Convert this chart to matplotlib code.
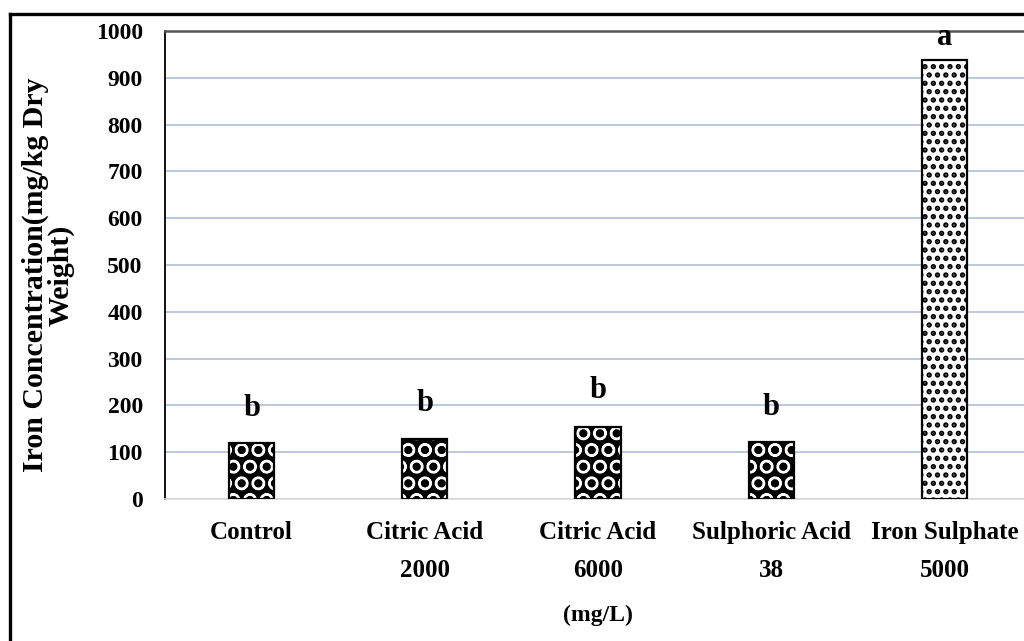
import matplotlib
matplotlib.use("Agg")
import matplotlib.pyplot as plt
from matplotlib.lines import Line2D
import numpy as np

categories = ["Control", "Citric Acid\n2000", "Citric Acid\n6000", "Sulphoric Acid\n38", "Iron Sulphate\n5000"]
values = [120, 128, 154, 122, 938]
letters = ["b", "b", "b", "b", "a"]
letter_y = [162, 173, 201, 165, 955]
yticks = [0, 100, 200, 300, 400, 500, 600, 700, 800, 900, 1000]

plt.rcParams['font.family'] = ['Liberation Serif', 'DejaVu Serif']
plt.rcParams['font.weight'] = 'bold'
plt.rcParams['hatch.linewidth'] = 1.6

fig = plt.figure(figsize=(10.24, 6.41), dpi=100)
ax = fig.add_axes([165/1024, 1-499/641, (1031-165)/1024, (499-31)/641])

x = np.arange(len(categories))
w = 0.26
# dark patterned bars
for i in range(4):
    ax.bar(x[i], values[i], width=w, color='black', edgecolor='white', hatch='O', linewidth=0, zorder=3)
    ax.bar(x[i], values[i], width=w, fill=False, edgecolor='black', linewidth=1.6, zorder=4)
# dotted bar
with plt.rc_context({'hatch.linewidth': 2.6}):
    ax.bar(x[4], values[4], width=w, color='white', edgecolor='black', hatch='..', linewidth=0, zorder=3)
ax.bar(x[4], values[4], width=w, fill=False, edgecolor='black', linewidth=1.6, zorder=4)

for xi, lt, ly in zip(x, letters, letter_y):
    ax.text(xi, ly, lt, ha='center', va='bottom', fontsize=22, fontweight='bold')

ax.set_xlim(-0.5, len(categories) - 0.5)
ax.set_ylim(0, 1000)
ax.set_yticks(yticks)
ax.set_yticklabels([str(v) for v in yticks], fontsize=17, fontweight='bold')
ax.set_xticks(x)
ax.set_xticklabels(categories, fontsize=18, fontweight='bold', linespacing=1.8)
ax.tick_params(axis='y', length=0, pad=16)
ax.tick_params(axis='x', length=0, pad=16)

ax.yaxis.grid(True, color='#B4BFD6', linewidth=1.2, zorder=0)
ax.set_axisbelow(True)
ax.spines['left'].set_color('black')
ax.spines['left'].set_linewidth(1.3)
ax.spines['top'].set_color('#555555')
ax.spines['top'].set_linewidth(1.8)
ax.spines['right'].set_visible(False)
ax.spines['bottom'].set_color('#D9D9D9')
ax.spines['bottom'].set_linewidth(1.2)

ax.set_xlabel("(mg/L)", fontsize=17, fontweight='bold', labelpad=17)
ax.set_ylabel("Iron Concentration(mg/kg Dry\nWeight)", fontsize=21.5, fontweight='bold',
              linespacing=0.92)
ax.yaxis.set_label_coords(-0.104, 0.479)

# outer border (cut off on right and bottom)
fig.add_artist(Line2D([10/1024, 10/1024], [1-14/641, -0.05], color='black', linewidth=2.4, transform=fig.transFigure))
fig.add_artist(Line2D([10/1024, 1.05], [1-14/641, 1-14/641], color='black', linewidth=2.4, transform=fig.transFigure))

fig.savefig("out.png", dpi=100)
